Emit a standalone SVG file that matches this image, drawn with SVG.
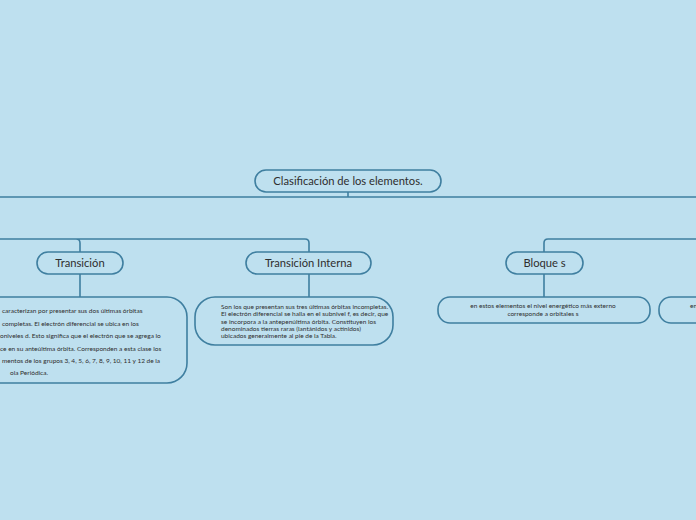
<svg xmlns="http://www.w3.org/2000/svg" width="696" height="520" viewBox="0 0 696 520">
<style>
.n{fill:none;stroke:#3F7FA0;stroke-width:1.6}
.c{fill:none;stroke:#3F7FA0;stroke-width:1.6}
.t{font-family:Lato,"Noto Sans",sans-serif;fill:#2E2E2E}
.h{font-size:11.2px;text-anchor:middle}
.s{font-size:6.5px}
.m{text-anchor:middle}
</style>
<rect width="696" height="520" fill="#BEE0EF"/>
<g id="connectors">
<path class="c" d="M348 192V197M0 197H696"/>
<path class="c" d="M0 239H305Q309 239 309 243V252M76 239Q80 239 80 243V252"/>
<path class="c" d="M696 239H548Q544 239 544 243V252"/>
<path class="c" d="M80 274V297M309 274V297M544 274V297"/>
</g>
<g id="root">
<rect class="n" x="255" y="170" width="186" height="22" rx="11"/>
<text class="t h" x="348" y="185">Clasificación de los elementos.</text>
</g>
<g id="transicion">
<rect class="n" x="37" y="252" width="86" height="22" rx="11"/>
<text class="t h" x="80" y="267">Transición</text>
</g>
<g id="transicion-interna">
<rect class="n" x="246" y="252" width="125" height="22" rx="11"/>
<text class="t h" x="308.5" y="267">Transición Interna</text>
</g>
<g id="bloque-s">
<rect class="n" x="506" y="252" width="77" height="22" rx="11"/>
<text class="t h" x="544.5" y="267">Bloque s</text>
</g>
<g id="detalle-transicion">
<rect class="n" x="-30" y="297" width="217" height="86" rx="20"/>
<text class="t s" x="2" y="313">caracterizan por presentar sus dos últimas órbitas</text>
<text class="t s" x="2" y="325.5">completas. El electrón diferencial se ubica en los</text>
<text class="t s" x="0" y="338">oniveles d. Esto significa que el electrón que se agrega lo</text>
<text class="t s" x="0" y="350.5">ce en su anteúltima órbita. Corresponden a esta clase los</text>
<text class="t s" x="2" y="363">mentos de los grupos 3, 4, 5, 6, 7, 8, 9, 10, 11 y 12 de la</text>
<text class="t s" x="10" y="375">ola Periódica.</text>
</g>
<g id="detalle-transicion-interna">
<rect class="n" x="195" y="297" width="198" height="48" rx="20"/>
<text class="t s" x="221" y="309">Son los que presentan sus tres últimas órbitas incompletas.</text>
<text class="t s" x="221" y="316.3">El electrón diferencial se halla en el subnivel f, es decir, que</text>
<text class="t s" x="221" y="323.6">se incorpora a la antepenúltima órbita. Constituyen los</text>
<text class="t s" x="221" y="330.9">denominados tierras raras (lantánidos y actínidos)</text>
<text class="t s" x="221" y="338.2">ubicados generalmente al pie de la Tabla.</text>
</g>
<g id="detalle-bloque-s">
<rect class="n" x="438" y="297" width="212" height="26" rx="12"/>
<text class="t s m" x="543" y="308">en estos elementos el nivel energético más externo</text>
<text class="t s m" x="543" y="316">corresponde a orbitales s</text>
</g>
<g id="detalle-derecha">
<rect class="n" x="659" y="297" width="80" height="26" rx="12"/>
<text class="t s" x="690" y="308">en</text>
</g>
</svg>
